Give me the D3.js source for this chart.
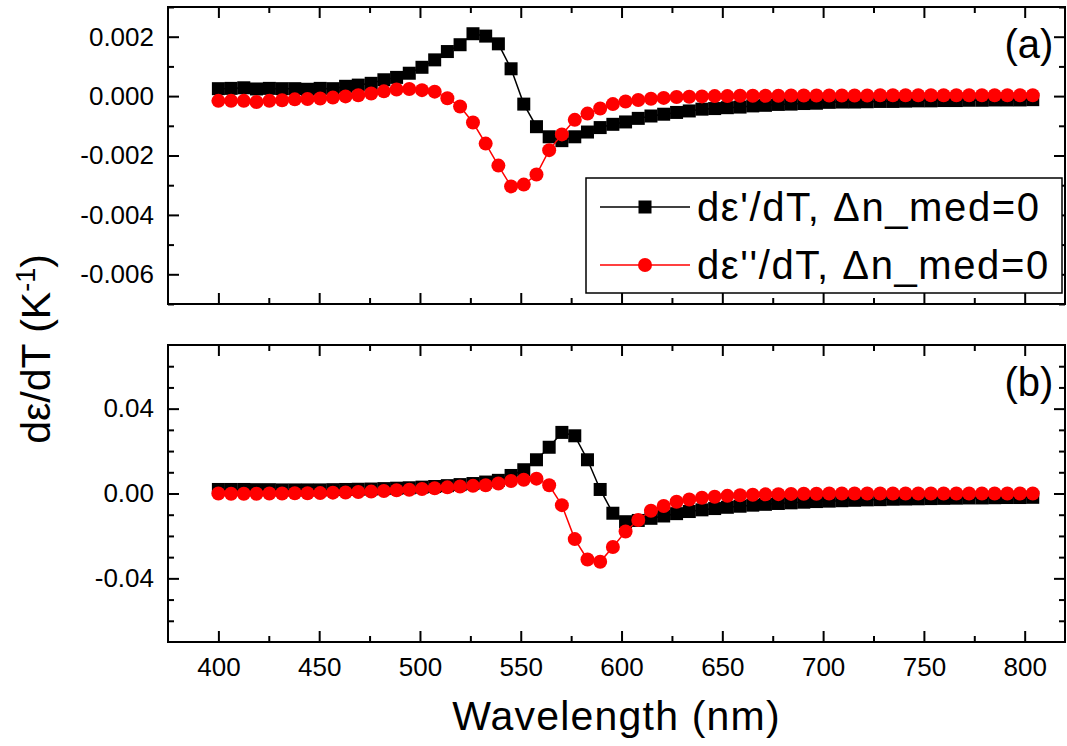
<!DOCTYPE html>
<html>
<head>
<meta charset="utf-8">
<script src="https://cdn.jsdelivr.net/npm/d3@7"></script>
<style>
  body { margin: 0; background: #fff; }
  svg { display: block; font-family: "Liberation Sans", Arial, sans-serif; }
</style>
</head>
<body>
<svg width="1067" height="746"></svg>
<script>
// wavelengths (nm), 65 samples
var wavelength = [400.0, 406.3, 412.6, 418.9, 425.3, 431.6, 437.9, 444.2, 450.5, 456.8,
  463.1, 469.4, 475.8, 482.1, 488.4, 494.7, 501.0, 507.3, 513.6, 519.9,
  526.3, 532.6, 538.9, 545.2, 551.5, 557.8, 564.1, 570.4, 576.8, 583.1,
  589.4, 595.7, 602.0, 608.3, 614.6, 620.9, 627.3, 633.6, 639.9, 646.2,
  652.5, 658.8, 665.1, 671.4, 677.8, 684.1, 690.4, 696.7, 703.0, 709.3,
  715.6, 721.9, 728.3, 734.6, 740.9, 747.2, 753.5, 759.8, 766.1, 772.4,
  778.8, 785.1, 791.4, 797.7, 804.0];

// panel (a): d eps'/dT and d eps''/dT
var aReal = [0.00025, 0.00026, 0.00028, 0.00024, 0.00026, 0.00025, 0.00025, 0.00023, 0.00026, 0.00025,
  0.00033, 0.00037, 0.00043, 0.00055, 0.00063, 0.00077, 0.00097, 0.00122, 0.0015, 0.00173,
  0.0021, 0.00202, 0.00176, 0.00092, -0.00027, -0.00103, -0.00137, -0.0015, -0.00137, -0.00121,
  -0.00106, -0.00095, -0.00087, -0.00075, -0.00067, -0.00061, -0.00055, -0.0005, -0.00044, -0.00042,
  -0.00039, -0.00037, -0.00033, -0.00031, -0.00028, -0.00027, -0.00025, -0.00024, -0.00021, -0.0002,
  -0.0002, -0.00019, -0.00018, -0.00018, -0.00017, -0.00016, -0.00016, -0.00015, -0.00015, -0.00014,
  -0.00014, -0.00013, -0.00013, -0.00013, -0.00012];
var aImag = [-0.00016, -0.00016, -0.00016, -0.0002, -0.00016, -0.00014, -0.00011, -0.0001, -0.00008, -0.00005,
  -0.00001, 0.00003, 0.00009, 0.00016, 0.00022, 0.00024, 0.0002, 0.00015, -0.00007, -0.00035,
  -0.00089, -0.0016, -0.00234, -0.00304, -0.00298, -0.00264, -0.00182, -0.00129, -0.0008, -0.00059,
  -0.00042, -0.00027, -0.00018, -0.00013, -0.00009, -0.00006, -0.00003, -0.00002, -0.00001, 0,
  0, 0.00001, 0.00001, 0.00001, 0.00001, 0.00002, 0.00002, 0.00002, 0.00002, 0.00002,
  0.00002, 0.00002, 0.00003, 0.00003, 0.00003, 0.00003, 0.00003, 0.00003, 0.00003, 0.00003,
  0.00003, 0.00003, 0.00003, 0.00003, 0.00003];

// panel (b)
var bReal = [0.0019, 0.0019, 0.0019, 0.0018, 0.0018, 0.0017, 0.0017, 0.0017, 0.0017, 0.0018,
  0.0019, 0.002, 0.0021, 0.0023, 0.0025, 0.0027, 0.003, 0.0033, 0.0037, 0.0042,
  0.0047, 0.0054, 0.0062, 0.0085, 0.0112, 0.0159, 0.0218, 0.0288, 0.0272, 0.0159,
  0.0019, -0.0093, -0.0133, -0.0127, -0.0117, -0.0106, -0.0095, -0.0085, -0.0077, -0.0071,
  -0.0065, -0.006, -0.0055, -0.0051, -0.0047, -0.0044, -0.0041, -0.0038, -0.0036, -0.0034,
  -0.0032, -0.003, -0.0029, -0.0027, -0.0026, -0.0025, -0.0024, -0.0023, -0.0022, -0.0021,
  -0.0021, -0.002, -0.0019, -0.0019, -0.0018];
var bImag = [0.0, -0.0001, -0.0001, -0.0001, 0.0, 0.0, 0.0001, 0.0001, 0.0002, 0.0004,
  0.0005, 0.0007, 0.0009, 0.0012, 0.0015, 0.0018, 0.0021, 0.0025, 0.0029, 0.0033,
  0.0036, 0.0039, 0.0047, 0.0059, 0.0065, 0.007, 0.0039, -0.0055, -0.0215, -0.0311,
  -0.0322, -0.0252, -0.0179, -0.0125, -0.0081, -0.0059, -0.0039, -0.0028, -0.002, -0.0015,
  -0.0011, -0.0008, -0.0006, -0.0004, -0.0003, -0.0002, -0.0001, -0.0001, 0.0, 0.0,
  0.0, 0.0, 0.0, 0.0, 0.0, 0.0, 0.0, 0.0, 0.0, 0.0,
  0.0, 0.0, 0.0, 0.0, 0.0];

var xMajor = [400, 450, 500, 550, 600, 650, 700, 750, 800];
var xMinor = [425, 475, 525, 575, 625, 675, 725, 775];
var aMajor = [-0.006, -0.004, -0.002, 0, 0.002];
var aMinor = [-0.007, -0.005, -0.003, -0.001, 0.001, 0.003];
var bMajor = [-0.04, 0, 0.04];
var bMinor = [-0.06, -0.05, -0.03, -0.02, -0.01, 0.01, 0.02, 0.03, 0.05, 0.06];
var legendLabels = ["d\u03b5'/dT, \u0394n_med=0", "d\u03b5''/dT, \u0394n_med=0"];

var svg = d3.select("svg"),
    left = 168, right = 1065;

var x = d3.scaleLinear().domain([375, 820]).range([left, right]);

var panels = [
  {top: 7, bottom: 304, domain: [-0.007, 0.003], major: aMajor, minor: aMinor, fmt: ".3f",
   re: aReal, im: aImag, tag: "(a)", showX: false},
  {top: 345, bottom: 642, domain: [-0.07, 0.07], major: bMajor, minor: bMinor, fmt: ".2f",
   re: bReal, im: bImag, tag: "(b)", showX: true}
];

function styleAxis(g) {
  g.select(".domain").remove();
  g.selectAll("line").attr("stroke", "#000").attr("stroke-width", 2);
  g.selectAll("text").attr("fill", "#000").style("font-size", "26px");
}

panels.forEach(function(p) {
  var y = d3.scaleLinear().domain(p.domain).range([p.bottom, p.top]);
  var fmt = function(d) { return d3.format(p.fmt)(d).replace("\u2212", "-"); };
  var g = svg.append("g");

  // axes, ticks pointing inward on all four sides
  g.append("g").attr("transform", "translate(" + left + ",0)")
    .call(d3.axisLeft(y).tickValues(p.major).tickSize(-11).tickPadding(14).tickFormat(fmt)).call(styleAxis);
  g.append("g").attr("transform", "translate(" + left + ",0)")
    .call(d3.axisLeft(y).tickValues(p.minor).tickSize(-6).tickFormat("")).call(styleAxis);
  g.append("g").attr("transform", "translate(" + right + ",0)")
    .call(d3.axisRight(y).tickValues(p.major).tickSize(-11).tickFormat("")).call(styleAxis);
  g.append("g").attr("transform", "translate(" + right + ",0)")
    .call(d3.axisRight(y).tickValues(p.minor).tickSize(-6).tickFormat("")).call(styleAxis);

  g.append("g").attr("transform", "translate(0," + p.bottom + ")")
    .call(d3.axisBottom(x).tickValues(xMajor).tickSize(-11).tickPadding(16)
      .tickFormat(p.showX ? d3.format("d") : "")).call(styleAxis);
  g.append("g").attr("transform", "translate(0," + p.bottom + ")")
    .call(d3.axisBottom(x).tickValues(xMinor).tickSize(-6).tickFormat("")).call(styleAxis);
  g.append("g").attr("transform", "translate(0," + p.top + ")")
    .call(d3.axisTop(x).tickValues(xMajor).tickSize(-11).tickFormat("")).call(styleAxis);
  g.append("g").attr("transform", "translate(0," + p.top + ")")
    .call(d3.axisTop(x).tickValues(xMinor).tickSize(-6).tickFormat("")).call(styleAxis);

  g.append("rect")
    .attr("x", left).attr("y", p.top)
    .attr("width", right - left).attr("height", p.bottom - p.top)
    .attr("fill", "none").attr("stroke", "#000").attr("stroke-width", 2);

  var line = d3.line()
    .x(function(d, i) { return x(wavelength[i]); })
    .y(function(d) { return y(d); });

  g.append("path").datum(p.re)
    .attr("d", line).attr("fill", "none").attr("stroke", "#000").attr("stroke-width", 1.5);
  g.selectAll(".sq").data(p.re).enter().append("rect")
    .attr("x", function(d, i) { return x(wavelength[i]) - 6.5; })
    .attr("y", function(d) { return y(d) - 6.5; })
    .attr("width", 13).attr("height", 13).attr("fill", "#000");

  g.append("path").datum(p.im)
    .attr("d", line).attr("fill", "none").attr("stroke", "#ff0000").attr("stroke-width", 1.5);
  g.selectAll(".ci").data(p.im).enter().append("circle")
    .attr("cx", function(d, i) { return x(wavelength[i]); })
    .attr("cy", function(d) { return y(d); })
    .attr("r", 7).attr("fill", "#ff0000");

  svg.append("text")
    .attr("x", 1029).attr("y", p.top + 51)
    .attr("text-anchor", "middle")
    .style("font-size", "40px")
    .text(p.tag);
});

// legend
var lg = svg.append("g");
lg.append("rect")
  .attr("x", 586).attr("y", 178).attr("width", 476).attr("height", 115)
  .attr("fill", "#fff").attr("stroke", "#000").attr("stroke-width", 1.5);
[0, 1].forEach(function(k) {
  var cy = 207 + k * 58;
  lg.append("line")
    .attr("x1", 600).attr("x2", 690).attr("y1", cy).attr("y2", cy)
    .attr("stroke", k ? "#ff0000" : "#000").attr("stroke-width", 1.5);
  if (k) {
    lg.append("circle").attr("cx", 645).attr("cy", cy).attr("r", 7).attr("fill", "#ff0000");
  } else {
    lg.append("rect").attr("x", 638.5).attr("y", cy - 6.5).attr("width", 13).attr("height", 13).attr("fill", "#000");
  }
  lg.append("text")
    .attr("x", 697).attr("y", cy + 14)
    .style("font-size", "40px")
    .style("letter-spacing", "1.6px")
    .text(legendLabels[k]);
});

// axis titles
svg.append("text")
  .attr("x", (left + right) / 2).attr("y", 730)
  .attr("text-anchor", "middle")
  .style("font-size", "41px")
  .style("letter-spacing", "1.2px")
  .text("Wavelength (nm)");

var yt = svg.append("text")
  .attr("transform", "translate(50,349)rotate(-90)")
  .attr("text-anchor", "middle")
  .style("font-size", "41px");
yt.append("tspan").text("d\u03b5/dT (K");
yt.append("tspan").attr("dy", -15).style("font-size", "27px").text("-1");
yt.append("tspan").attr("dy", 15).text(")");
</script>
</body>
</html>
